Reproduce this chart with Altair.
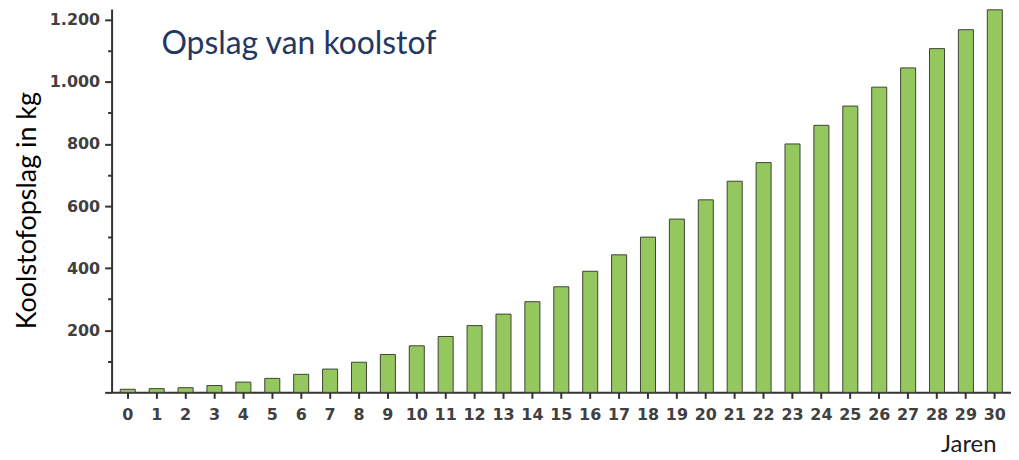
import altair as alt
import pandas as pd

years = list(range(31))
values = [10, 12, 15, 22, 33, 45, 58, 75, 97, 122, 150, 180, 215, 252, 292,
          340, 390, 443, 500, 558, 620, 680, 740, 800, 860, 922, 983, 1045,
          1107, 1168, 1232]

df = pd.DataFrame({"jaar": years, "opslag": values})

label_expr = ("datum.value > 0 && datum.value % 200 == 0 ? "
              "replace(format(datum.value, ','), ',', '.') : ''")

bars = alt.Chart(df).mark_bar(
    fill="#95C75F", stroke="#3c4434", strokeWidth=1
).encode(
    x=alt.X("jaar:O", sort=years,
            scale=alt.Scale(paddingInner=0.48, paddingOuter=0.30),
            axis=alt.Axis(title="Jaren", labelAngle=0, labelFont="DejaVu Sans",
                          labelFontSize=16, labelColor="#404040",
                          labelFontWeight="bold",
                          labelPadding=8, tickSize=6, tickWidth=2,
                          tickColor="#333333", domainColor="#333333",
                          domainWidth=2, titleFont="Lato", titleFontSize=24,
                          titleFontWeight="normal", titleColor="#1b1b2a",
                          titleX=888, titleY=52, titleAlign="right",
                          titleBaseline="middle")),
    y=alt.Y("opslag:Q",
            scale=alt.Scale(domain=[0, 1235], nice=False),
            axis=alt.Axis(values=list(range(0, 1201, 100)), labelExpr=label_expr,
                          title="Koolstofopslag in kg", grid=False,
                          labelFont="DejaVu Sans", labelFontSize=16,
                          labelColor="#404040", labelFontWeight="bold",
                          labelPadding=5,
                          tickSize={"condition": {"test": "datum.value % 200 == 0", "value": 7}, "value": 4},
                          tickWidth=2,
                          tickColor="#333333", domainColor="#333333",
                          domainWidth=2, titleFont="Lato", titleFontSize=27,
                          titleFontWeight="normal", titleColor="#000000",
                          titleAngle=-90, titleX=-84, titleY=202,
                          titleAlign="center", titleBaseline="middle")),
)

title = alt.Chart(pd.DataFrame({"t": ["Opslag van koolstof"]})).mark_text(
    font="Lato", fontSize=32, color="#1F3864", align="left", baseline="alphabetic"
).encode(x=alt.value(50), y=alt.value(45), text="t:N")

chart = alt.layer(bars, title).properties(
    width=903, height=385,
    autosize=alt.AutoSizeParams(type="none"),
    padding={"left": 104, "top": 0, "right": 0, "bottom": 66},
).configure_view(stroke=None)

chart.save("out.html", embed_options={"renderer": "svg", "actions": False})
